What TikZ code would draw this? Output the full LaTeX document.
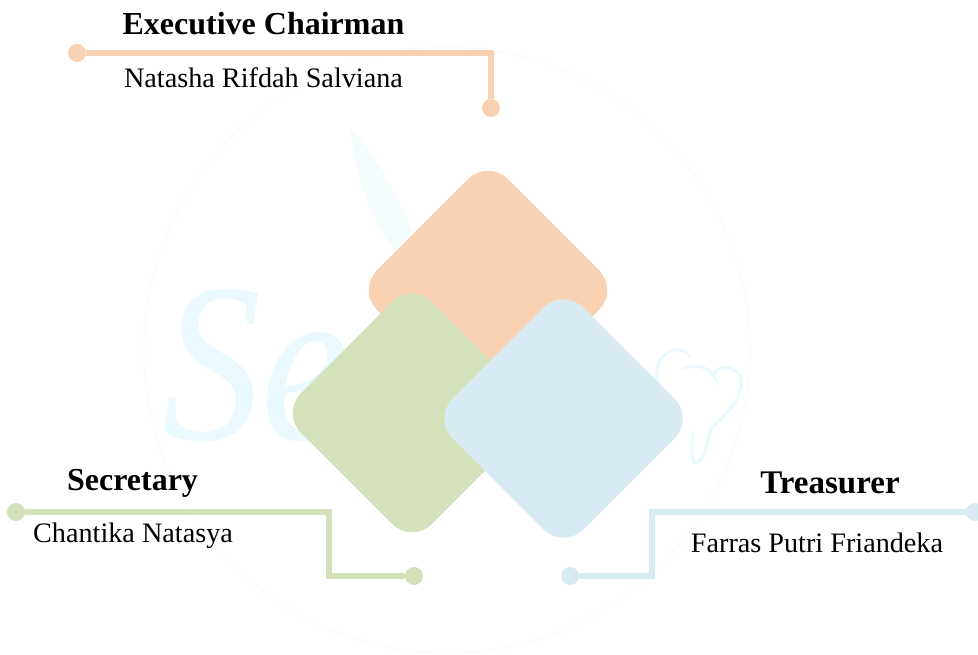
\documentclass[tikz,border=0pt]{standalone}
\usepackage{fontspec}
\setmainfont{Liberation Serif}
\definecolor{peach}{HTML}{F9D2B4}
\definecolor{sage}{HTML}{D5E1BB}
\definecolor{sky}{HTML}{D8EBF3}
\definecolor{wash}{HTML}{EAF9FE}
\definecolor{ring}{HTML}{FBFCFD}
\begin{document}
\begin{tikzpicture}[
					x = 0.5pt,
					y = -0.5pt,
					petal/.style = {
						shape = rectangle,
						rotate = 45,
						minimum width = 92.5pt,
						minimum height = 92.5pt,
						rounded corners = 14pt,
						inner sep = 0pt,
					},
					enddot/.style = {
						shape = circle,
						minimum size = 9pt,
						inner sep = 0pt,
					},
					role/.style = {
						font = \bfseries\fontsize{16}{18}\selectfont,
						inner sep = 0pt,
					},
					person/.style = {
						font = \fontsize{14.1}{16}\selectfont,
						inner sep = 0pt,
					},
					wire/.style = {
						line width = 3pt,
						line join = miter,
					},
			]
				\useasboundingbox (0, 0) rectangle (978, 654);
				\fill [white] (0, 0) rectangle (978, 654);

				% faint watermark
				\draw [ring, line width = 0.8pt] (447, 350) circle [radius = 303];
				\fill [wash!50] (350, 128) .. controls (358, 190) and (375, 225) .. (395, 250) -- (412, 230) .. controls (395, 190) and (370, 150) .. (350, 128);
				\draw (256, 366) node (mark) [text = wash, inner sep = 0pt, xscale = 1.1, yscale = 1.26, font = \itshape\fontsize{90}{90}\selectfont] {Se};
				\draw [wash, line width = 1.5pt] (657, 385) .. controls (654, 365) and (662, 350) .. (677, 350) .. controls (684, 350) and (688, 353) .. (690, 357);
				\draw [wash, line width = 1.5pt] (683, 368) .. controls (696, 364) and (708, 366) .. (715, 378) .. controls (712, 372) and (718, 366) .. (730, 368) .. controls (740, 372) and (743, 380) .. (740, 390) .. controls (735, 410) and (718, 420) .. (712, 428) .. controls (707, 438) and (707, 448) .. (705, 452) .. controls (702, 460) and (698, 463) .. (695, 462) .. controls (690, 460) and (692, 445) .. (693, 432);

				% three petals
				\draw (488, 290) node (chair) [petal, fill = peach] {};
				\draw (412, 413) node (sec) [petal, fill = sage] {};
				\draw (563.5, 418.5) node (tre) [petal, fill = sky] {};

				% end dots
				\draw (77, 53) node (chairA) [enddot, fill = peach] {};
				\draw (491, 108) node (chairB) [enddot, fill = peach] {};
				\draw (16, 512) node (secA) [enddot, fill = sage] {};
				\draw (414, 576) node (secB) [enddot, fill = sage] {};
				\draw (975, 512) node (treA) [enddot, fill = sky] {};
				\draw (570, 576) node (treB) [enddot, fill = sky] {};
				\coordinate (secM) at (329, 544);
				\coordinate (treM) at (652, 544);

				\draw [wire, peach] (chairA) -| (chairB);
				\draw [wire, sage] (secA) -| (secM) |- (secB);
				\draw [wire, sky] (treA) -| (treM) |- (treB);

				% labels
				\draw (263.5, 24) node (chairT) [role] {Executive Chairman};
				\draw (263.5, 78) node (chairN) [person] {Natasha Rifdah Salviana};
				\draw (132.5, 483) node (secT) [role] {Secretary};
				\draw (133, 536) node (secN) [person] {Chantika Natasya};
				\draw (830, 483) node (treT) [role, font = \bfseries\fontsize{16.5}{18}\selectfont] {Treasurer};
				\draw (817, 543) node (treN) [person] {Farras Putri Friandeka};
			\end{tikzpicture}
\end{document}
